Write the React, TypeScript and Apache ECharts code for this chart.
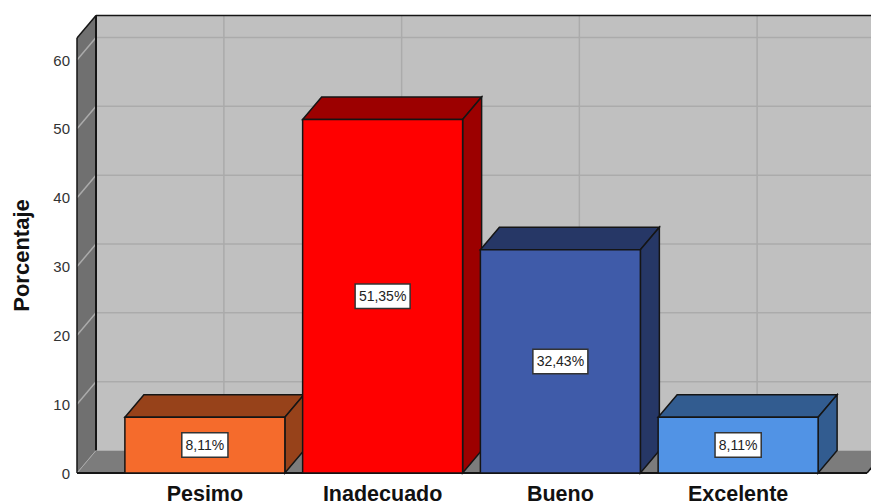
import React, { useEffect, useRef } from "react";
import * as echarts from "echarts";

const categories = ["Pesimo", "Inadecuado", "Bueno", "Excelente"];
const percentages = [8.11, 51.35, 32.43, 8.11];
const valueLabels = ["8,11%", "51,35%", "32,43%", "8,11%"];
const gridValues = [10, 20, 30, 40, 50, 60];

const frontColors = ["#F56B2C", "#FF0000", "#3F5BA9", "#5193E5"];
const darkColors = ["#97421A", "#9C0000", "#263766", "#325C90"];

const DX = 19;
const DY = 22.5;
const SIDE_LEFT = 39;
const SIDE_RIGHT = 40;
const EDGE = "#151515";
const FONT = '"Liberation Sans", Arial, sans-serif';

function poly(points: number[][], fill: string, stroke = EDGE, lineWidth = 1.5) {
  return { type: "polygon", shape: { points }, style: { fill, stroke, lineWidth } };
}
function line(x1: number, y1: number, x2: number, y2: number, stroke: string, lineWidth = 1.5) {
  return { type: "line", shape: { x1, y1, x2, y2 }, style: { stroke, lineWidth, fill: "none" } };
}

function renderWalls(params: any, api: any) {
  const c = params.coordSys;
  const left = c.x - SIDE_LEFT;
  const right = c.x + c.width + SIDE_RIGHT;
  const top = c.y;
  const bottom = c.y + c.height;
  const children: any[] = [
    poly([[left + DX, top - DY], [right + DX, top - DY], [right + DX, bottom - DY], [left + DX, bottom - DY]], "#C0C0C0", "none", 0),
    poly([[left, bottom], [left + DX, bottom - DY], [right + DX, bottom - DY], [right, bottom]], "#7C7C7C", "none", 0),
    poly([[left, top], [left + DX, top - DY], [left + DX, bottom - DY], [left, bottom]], "#707070", "none", 0),
  ];
  gridValues.forEach((v) => {
    const y = api.coord([0, v])[1];
    children.push(line(left + DX, y - DY, right + DX, y - DY, "#ABABAB"));
    children.push(line(left, y, left + DX, y - DY, "#ABABAB"));
  });
  categories.forEach((_, i) => {
    const x = api.coord([i, 0])[0] + DX;
    children.push(line(x, top - DY, x, bottom - DY, "#ABABAB"));
  });
  children.push(line(left, top, left + DX, top - DY, EDGE));
  children.push(line(left + DX, top - DY, right + DX, top - DY, EDGE));
  children.push(line(left + DX, top - DY, left + DX, bottom - DY, EDGE, 2));
  children.push(line(left, top, left, bottom, EDGE));
  children.push(line(left, bottom, left + DX, bottom - DY, "#ABABAB", 1));
  children.push(line(right, bottom, right + DX, bottom - DY, EDGE));
  children.push(line(left, bottom, right, bottom, EDGE, 2));
  return { type: "group", children };
}

function renderBar(params: any, api: any) {
  const i = api.value(0);
  const v = api.value(1);
  const [cx, yTop] = api.coord([i, v]);
  const [, yBottom] = api.coord([i, 0]);
  const w = api.size([1, 0])[0] * 0.9;
  const x0 = cx - w / 2;
  const x1 = cx + w / 2;
  return {
    type: "group",
    children: [
      poly([[x0, yTop], [x0 + DX, yTop - DY], [x1 + DX, yTop - DY], [x1, yTop]], darkColors[i]),
      poly([[x1, yTop], [x1 + DX, yTop - DY], [x1 + DX, yBottom - DY], [x1, yBottom]], darkColors[i]),
      poly([[x0, yTop], [x1, yTop], [x1, yBottom], [x0, yBottom]], frontColors[i]),
      {
        type: "text",
        style: {
          x: cx,
          y: (yTop + yBottom) / 2,
          text: valueLabels[i],
          align: "center",
          verticalAlign: "middle",
          font: `14px ${FONT}`,
          fill: "#222222",
          backgroundColor: "#FFFFFF",
          borderColor: "#333333",
          borderWidth: 1.5,
          padding: [5, 3, 4, 3],
        },
      },
    ],
  };
}

export default function App() {
  const ref = useRef<HTMLDivElement>(null);
  useEffect(() => {
    const chart = echarts.init(ref.current!, undefined, { renderer: "svg" });
    chart.setOption({
      animation: false,
      backgroundColor: "#FFFFFF",
      grid: { left: 116, right: 44, top: 38, bottom: 31, outerBoundsMode: "none" },
      xAxis: {
        type: "category",
        data: categories,
        axisLine: { show: false },
        axisTick: { show: false },
        axisLabel: { color: "#111111", fontFamily: FONT, fontWeight: "bold", fontSize: 21.5, lineHeight: 19, margin: 11 },
      },
      yAxis: {
        type: "value",
        min: 0,
        max: 63.2,
        interval: 10,
        offset: 39,
        name: "Porcentaje",
        nameLocation: "middle",
        nameGap: 45,
        nameTextStyle: { color: "#111111", fontFamily: FONT, fontWeight: "bold", fontSize: 22 },
        axisLine: { show: false },
        axisTick: { show: false },
        splitLine: { show: false },
        axisLabel: { color: "#333333", fontFamily: FONT, fontSize: 15, margin: 7, showMaxLabel: false },
      },
      series: [
        { type: "custom", silent: true, z: 1, clip: false, data: [[0, 0]], renderItem: renderWalls },
        {
          type: "custom",
          silent: true,
          z: 2,
          clip: false,
          data: percentages.map((v, i) => [i, v]),
          encode: { x: 0, y: 1 },
          renderItem: renderBar,
        },
      ],
    });
    return () => chart.dispose();
  }, []);
  return <div ref={ref} style={{ position: "absolute", left: 0, top: 0, width: 871, height: 504 }} />;
}
